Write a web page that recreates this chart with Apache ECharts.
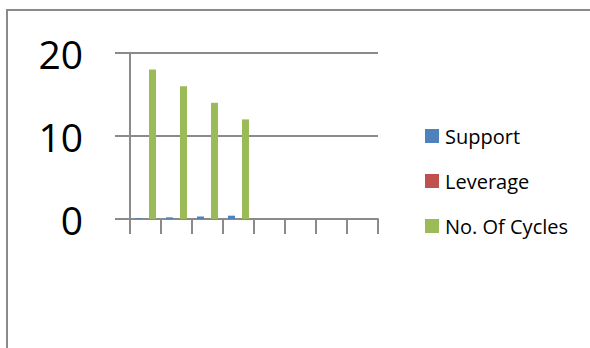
<!DOCTYPE html>
<html>
<head>
<meta charset="utf-8">
<style>
  html, body { margin: 0; padding: 0; background: #fff; }
  #chart { width: 590px; height: 348px; }
</style>
<script src="https://cdn.jsdelivr.net/npm/echarts@6/dist/echarts.min.js"></script>
</head>
<body>
<div id="chart"></div>
<script>
var categories = ['1', '2', '3', '4', '5', '6', '7', '8'];
var support = [0.1, 0.2, 0.3, 0.4, null, null, null, null];
var leverage = [0, 0, 0, 0, null, null, null, null];
var cycles = [18, 16, 14, 12, null, null, null, null];
var yTicks = [0, 10, 20];

(function() {
  var rule = '#8a8a8a';
  var font = '"Open Sans", "Liberation Sans", sans-serif';

  var chart = echarts.init(document.getElementById('chart'), null, { renderer: 'svg' });
  chart.setOption({
    animation: false,
    graphic: [{
      type: 'rect',
      shape: { x: 7, y: 10, width: 620, height: 400 },
      style: { fill: 'none', stroke: rule, lineWidth: 2 },
      silent: true
    }],
    grid: { left: 130, right: 212, top: 53, bottom: 129 },
    legend: {
      orient: 'vertical',
      left: 420,
      top: 121,
      itemWidth: 14,
      itemHeight: 14,
      itemGap: 25,
      icon: 'rect',
      textStyle: { color: '#000', fontSize: 20, lineHeight: 20, fontFamily: font, padding: [0, 0, 0, 1] },
      data: ['Support', 'Leverage', 'No. Of Cycles']
    },
    xAxis: {
      type: 'category',
      data: categories,
      boundaryGap: true,
      axisLine: { lineStyle: { color: rule, width: 2 } },
      axisTick: { show: true, length: 15, lineStyle: { color: rule, width: 2 } },
      axisLabel: { show: false }
    },
    yAxis: {
      type: 'value',
      min: yTicks[0],
      max: yTicks[yTicks.length - 1],
      interval: yTicks[1] - yTicks[0],
      axisLine: { show: true, lineStyle: { color: rule, width: 2 } },
      axisTick: { show: true, length: 15, lineStyle: { color: rule, width: 2 } },
      splitLine: { show: true, lineStyle: { color: rule, width: 2 } },
      axisLabel: { color: '#000', fontSize: 39, fontFamily: font, margin: 47 }
    },
    series: [
      { name: 'Support', type: 'bar', data: support, barWidth: 7, barGap: '0%', itemStyle: { color: '#4F81BD' } },
      { name: 'Leverage', type: 'bar', data: leverage, barWidth: 7, barGap: '0%', itemStyle: { color: '#C0504D' } },
      { name: 'No. Of Cycles', type: 'bar', data: cycles, barWidth: 7, barGap: '0%', itemStyle: { color: '#9BBB59' } }
    ]
  });
  window.addEventListener('resize', function() { chart.resize(); });
})();
</script>
</body>
</html>
